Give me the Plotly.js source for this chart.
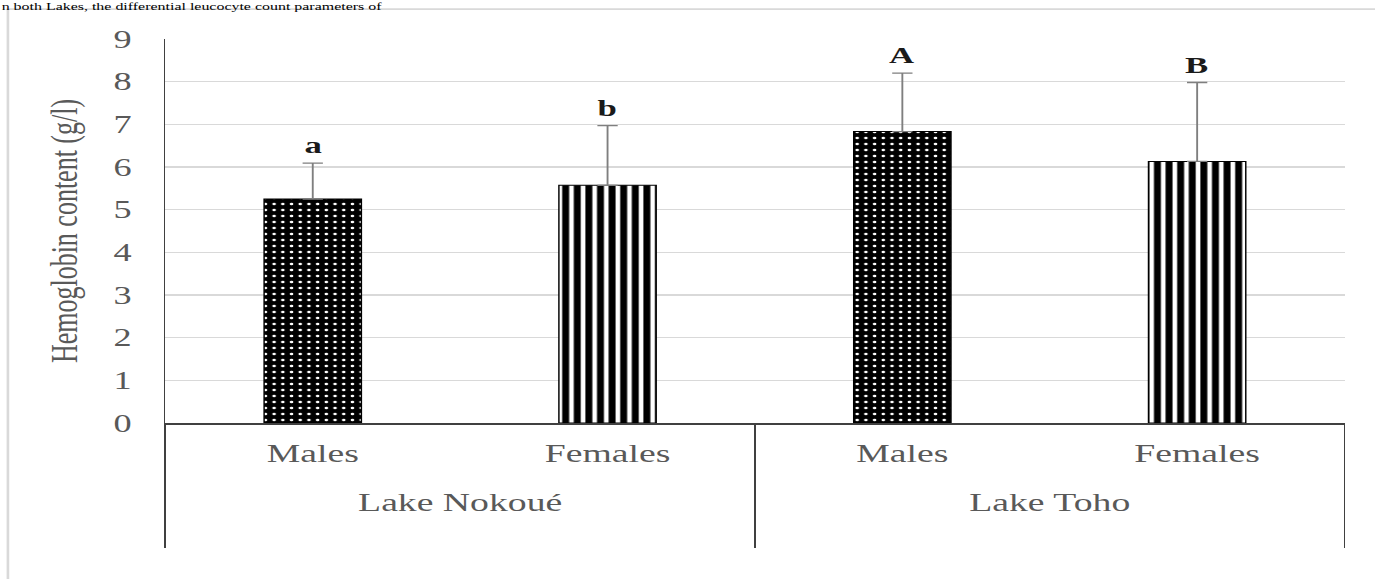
<!DOCTYPE html>
<html><head><meta charset="utf-8">
<script src="https://cdn.plot.ly/plotly-3.0.1.min.js"></script>
<style>
html,body{margin:0;padding:0;background:#fff;overflow:hidden;width:1375px;height:579px;}
#chart{width:948px;height:579px;transform:scaleX(1.45042);transform-origin:0 0;}
</style></head><body><div id="chart"></div>
<script>
// Data
const lakes = ['Lake Nokoué', 'Lake Nokoué', 'Lake Toho', 'Lake Toho'];
const sexes = ['Males', 'Females', 'Males', 'Females'];
const hemoglobin = [5.25, 5.57, 6.83, 6.13];
const errorUpper = [0.84, 1.40, 1.37, 1.85];
const groupLetters = ['a', 'b', 'A', 'B'];
const yTickValues = [0, 1, 2, 3, 4, 5, 6, 7, 8, 9];
const yTitle = 'Hemoglobin content (g/l)';
const pageFragment = 'n both Lakes, the differential leucocyte count parameters of';

const serif = 'Liberation Serif, Times New Roman, serif';
const grey = '#595959';
const n = lakes.length;

// unique category keys (lake + sex), shown with the sex as tick text
const categoryKeys = lakes.map((l, i) => l + ' | ' + sexes[i]);

// lake groups: boundaries (dividers) and centres (group labels)
const lakeNames = [];
const lakeCenters = [];
const lakeBounds = [-0.5];
let start = 0;
for (let i = 1; i <= n; i++) {
  if (i === n || lakes[i] !== lakes[i - 1]) {
    lakeNames.push(lakes[start]);
    lakeCenters.push((start + i - 1) / 2);
    lakeBounds.push(i - 0.5);
    start = i;
  }
}

function subset(sex) {
  const idx = sexes.map((s, i) => s === sex ? i : -1).filter(i => i >= 0);
  return {
    x: idx.map(i => categoryKeys[i]),
    y: idx.map(i => hemoglobin[i]),
    e: idx.map(i => errorUpper[i])
  };
}

const errStyle = (arr) => ({
  type: 'data', symmetric: false, array: arr, arrayminus: arr.map(() => 0),
  color: '#7f7f7f', thickness: 1.3, width: 7
});

const m = subset('Males');
const f = subset('Females');

const maleBars = {
  type: 'bar', name: 'Males', x: m.x, y: m.y, width: 0.33,
  marker: {
    color: '#000000',
    line: {color: '#000000', width: 1},
    pattern: {shape: '.', fgcolor: '#ffffff', bgcolor: '#000000', size: 6, solidity: 0.14, fillmode: 'replace'}
  },
  error_y: errStyle(m.e),
  hoverinfo: 'none', showlegend: false
};

const femaleBars = {
  type: 'bar', name: 'Females', x: f.x, y: f.y, width: 0.33,
  marker: {
    color: '#ffffff',
    line: {color: '#000000', width: 1},
    pattern: {shape: '|', fgcolor: '#000000', bgcolor: '#ffffff', size: 8, solidity: 0.6, fillmode: 'replace'}
  },
  error_y: errStyle(f.e),
  hoverinfo: 'none', showlegend: false
};

// carrier for the lake-group axis (draws nothing itself)
const lakeAxisCarrier = {
  type: 'scatter', mode: 'none', xaxis: 'x2', yaxis: 'y',
  x: lakeCenters, y: lakeCenters.map(() => 0),
  hoverinfo: 'none', showlegend: false
};

const letterAnnotations = groupLetters.map((t, i) => ({
  xref: 'x', yref: 'y',
  x: categoryKeys[i], y: hemoglobin[i] + errorUpper[i],
  xanchor: 'center', yanchor: 'bottom', yshift: 3,
  text: t, showarrow: false,
  font: {family: serif, size: 24, color: '#1a1a1a', weight: 'bold'}
}));

const layout = {
  width: 948,
  height: 579,
  margin: {l: 114, r: 21, t: 39, b: 156},
  paper_bgcolor: '#ffffff',
  plot_bgcolor: '#ffffff',
  showlegend: false,
  barmode: 'overlay',
  xaxis: {
    type: 'category',
    categoryorder: 'array',
    categoryarray: categoryKeys,
    range: [-0.5, n - 0.5],
    tickmode: 'array',
    tickvals: categoryKeys,
    ticktext: sexes,
    showline: true,
    linecolor: '#404040',
    linewidth: 1.5,
    ticks: '',
    showgrid: false,
    zeroline: false,
    ticklabelstandoff: 6,
    tickfont: {family: serif, size: 26, color: grey}
  },
  xaxis2: {
    overlaying: 'x',
    anchor: 'y',
    side: 'bottom',
    type: 'linear',
    range: [-0.5, n - 0.5],
    tickmode: 'array',
    tickvals: lakeCenters,
    ticktext: lakeNames,
    ticks: '',
    showline: false,
    showgrid: false,
    zeroline: false,
    ticklabelstandoff: 61,
    tickfont: {family: serif, size: 26, color: grey},
    minor: {
      tickmode: 'array',
      tickvals: lakeBounds,
      ticks: 'outside',
      ticklen: 124,
      tickwidth: 1.2,
      tickcolor: '#404040',
      showgrid: false
    }
  },
  yaxis: {
    range: [0, 9],
    tickvals: yTickValues,
    ticktext: yTickValues.map(String),
    showgrid: true,
    gridcolor: '#d9d9d9',
    gridwidth: 1.5,
    showline: true,
    linecolor: '#404040',
    linewidth: 1.2,
    zeroline: false,
    ticks: '',
    ticklabelstandoff: 17,
    tickfont: {family: serif, size: 25, color: grey},
    title: {text: yTitle, font: {family: serif, size: 26, color: grey}, standoff: 17}
  },
  shapes: [{
    type: 'rect', xref: 'paper', yref: 'paper',
    x0: -0.1335, x1: 1.2, y0: -0.6, y1: 1.078,
    line: {color: '#d9d9d9', width: 1.8},
    fillcolor: 'rgba(0,0,0,0)',
    layer: 'below'
  }],
  annotations: letterAnnotations.concat([{
    xref: 'paper', yref: 'paper',
    x: -0.1402, y: 1.104,
    xanchor: 'left', yanchor: 'top',
    text: pageFragment,
    showarrow: false,
    borderpad: 0,
    font: {family: serif, size: 11, color: '#000000'}
  }])
};

Plotly.newPlot('chart', [maleBars, femaleBars, lakeAxisCarrier], layout, {displayModeBar: false, staticPlot: true});
</script>
</body></html>
